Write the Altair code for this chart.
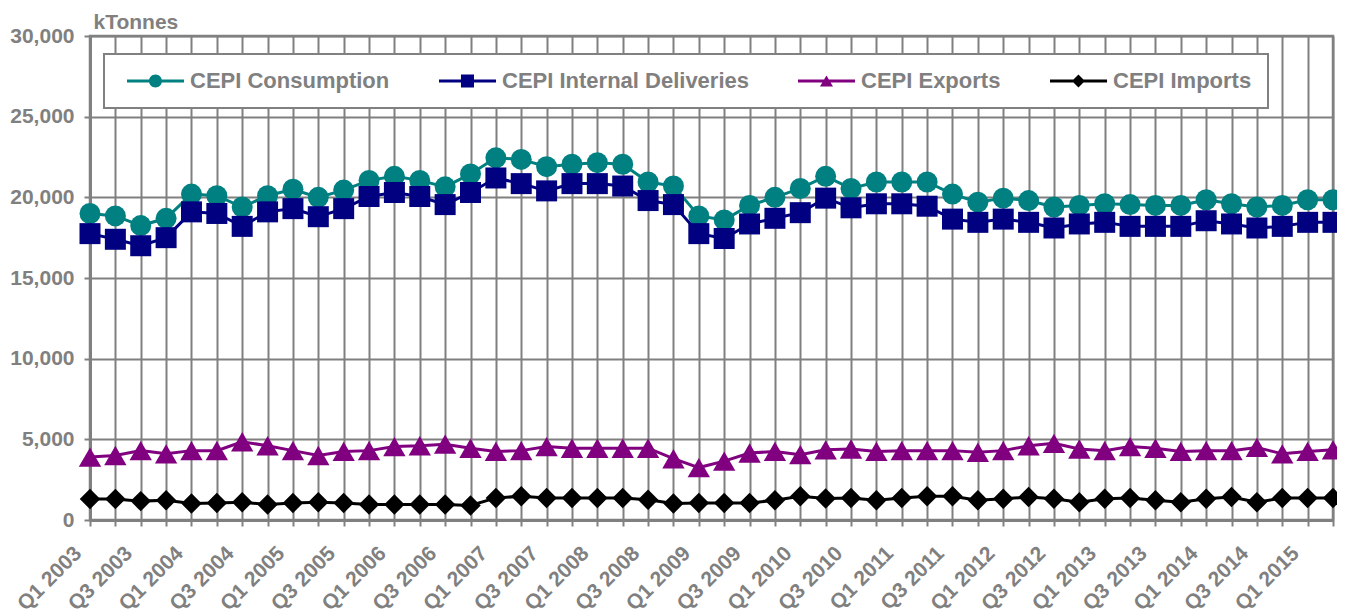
import altair as alt
import pandas as pd

quarters = [f"Q{q} {y}" for y in range(2003, 2016) for q in range(1, 5)][:50]

consumption = [19000, 18850, 18250, 18700, 20200, 20100, 19400, 20100, 20500, 20000,
               20450, 21050, 21300, 21050, 20650, 21450, 22450, 22350, 21900, 22050,
               22150, 22050, 20950, 20700, 18850, 18600, 19500, 20000, 20550, 21300,
               20550, 20950, 20950, 20950, 20200, 19700, 19950, 19800, 19400, 19500,
               19600, 19550, 19500, 19500, 19850, 19600, 19400, 19500, 19850, 19850]
deliveries = [17750, 17400, 17000, 17500, 19100, 19000, 18200, 19100, 19300, 18800,
              19300, 20050, 20300, 20050, 19550, 20300, 21200, 20850, 20400, 20850,
              20850, 20700, 19800, 19550, 17750, 17450, 18350, 18700, 19050, 19950,
              19350, 19600, 19600, 19450, 18650, 18450, 18650, 18450, 18100, 18350,
              18450, 18200, 18200, 18200, 18550, 18350, 18100, 18200, 18450, 18450]
exports = [3900, 4000, 4300, 4100, 4300, 4300, 4850, 4600, 4300, 4000,
           4250, 4300, 4550, 4600, 4700, 4450, 4250, 4300, 4550, 4450,
           4450, 4450, 4450, 3800, 3250, 3650, 4150, 4250, 4050, 4350,
           4400, 4250, 4300, 4300, 4300, 4200, 4300, 4600, 4750, 4400,
           4300, 4550, 4450, 4250, 4300, 4300, 4500, 4100, 4250, 4350]
imports = [1300, 1300, 1170, 1220, 1020, 1060, 1100, 960, 1060, 1100,
           1060, 960, 960, 960, 960, 900, 1370, 1470, 1370, 1370,
           1370, 1370, 1250, 1020, 1060, 1060, 1060, 1220, 1470, 1330,
           1370, 1220, 1370, 1470, 1470, 1220, 1310, 1430, 1310, 1100,
           1310, 1370, 1220, 1100, 1310, 1430, 1100, 1370, 1370, 1370]

series_names = ["CEPI Consumption", "CEPI Internal Deliveries", "CEPI Exports", "CEPI Imports"]
series_values = [consumption, deliveries, exports, imports]
series_colors = ["#008080", "#000080", "#800080", "#000000"]
series_shapes = ["circle", "square", "triangle-up", "diamond"]
series_sizes = [441, 441, 500, 420]
y_ticks = [0, 5000, 10000, 15000, 20000, 25000, 30000]

rows = []
for name, vals in zip(series_names, series_values):
    for i, (q, v) in enumerate(zip(quarters, vals)):
        rows.append({"series": name, "quarter": q, "idx": i, "value": v})
df = pd.DataFrame(rows)

GRAY = "#808080"
FONT = "Liberation Sans"

x_enc = alt.X(
    "quarter:N", sort=quarters,
    scale=alt.Scale(type="point", padding=0),
    axis=alt.Axis(
        title=None, labelAngle=-45, labelAlign="right", labelBaseline="middle",
        labelOverlap=False, labelPadding=24, labelOffset=-12, tickSize=6,
        labelExpr="(substring(datum.label,0,2)=='Q1' || substring(datum.label,0,2)=='Q3') ? datum.label : ''",
    ),
)
y_enc = alt.Y(
    "value:Q",
    scale=alt.Scale(domain=[0, 30000], nice=False, zero=True),
    axis=alt.Axis(
        values=y_ticks, format=",.0f",
        title="kTonnes", titleAngle=0, titleX=3, titleY=-8, titleAlign="left",
        titleBaseline="alphabetic", titleFontSize=21, tickSize=6, labelPadding=10,
    ),
)

layers = []
for name, col, shp, sz in zip(series_names, series_colors, series_shapes, series_sizes):
    base = alt.Chart(df).transform_filter(alt.datum.series == name).encode(x=x_enc, y=y_enc)
    layers.append(base.mark_line(color=col, strokeWidth=3).encode(order=alt.Order("idx:Q")))
    layers.append(base.mark_point(shape=shp, filled=True, color=col, size=sz, opacity=1))

# legend symbols: line segment + marker, in symbol units (1 unit = 7 px)
def fmt(v):
    return f"{v:.3f}"

SH = -5.0 / 7.0
L0, L1, CX, HT, R = 0.143 + SH, 8.29 + SH, 4.21 + SH, 0.214, 0.929
line_path = f"M{fmt(L0)},{fmt(-HT)}H{fmt(L1)}V{fmt(HT)}H{fmt(L0)}Z"
legend_paths = [
    line_path + f"M{fmt(CX-R)},0A{fmt(R)},{fmt(R)} 0 1,1 {fmt(CX+R)},0A{fmt(R)},{fmt(R)} 0 1,1 {fmt(CX-R)},0Z",
    line_path + f"M{fmt(CX-R)},{fmt(-R)}H{fmt(CX+R)}V{fmt(R)}H{fmt(CX-R)}Z",
    line_path + f"M{fmt(CX)},{fmt(-0.79)}L{fmt(CX+R)},{fmt(0.79)}L{fmt(CX-R)},{fmt(0.79)}Z",
    line_path + f"M{fmt(CX)},{fmt(-R)}L{fmt(CX+R)},0L{fmt(CX)},{fmt(R)}L{fmt(CX-R)},0Z",
]

legend = alt.Legend(
    title=None, orient="none", legendX=14, legendY=18, direction="horizontal",
    columns=4, columnPadding=42, padding=16, strokeColor=GRAY, fillColor="white",
    labelFont=FONT, labelFontSize=22, labelFontWeight="bold", labelColor=GRAY,
    labelOffset=48, labelLimit=0, symbolSize=196, symbolStrokeWidth=0, symbolOpacity=1,
)
legend_layer = alt.Chart(df).transform_filter("false").mark_point(filled=True, opacity=1).encode(
    color=alt.Color("series:N", scale=alt.Scale(domain=series_names, range=series_colors), legend=legend),
    shape=alt.Shape("series:N", scale=alt.Scale(domain=series_names, range=legend_paths), legend=legend),
)
layers.append(legend_layer)

chart = alt.layer(*layers).properties(
    width=1243, height=484,
    autosize=alt.AutoSizeParams(type="none"),
    padding={"left": 82, "top": 28, "right": 4, "bottom": 96},
    background="white",
).configure_view(
    stroke=GRAY, strokeWidth=2.5,
).configure_axis(
    domainColor=GRAY, domainWidth=3, gridColor=GRAY, gridWidth=2, gridOpacity=1,
    tickColor=GRAY, tickWidth=2, labelColor=GRAY, titleColor=GRAY,
    labelFont=FONT, labelFontSize=21, labelFontWeight="bold",
    titleFont=FONT, titleFontSize=21, titleFontWeight="bold", grid=True,
).configure_legend(
    strokeWidth=2,
)

chart.save("out.html", embed_options={"renderer": "svg", "actions": False})
